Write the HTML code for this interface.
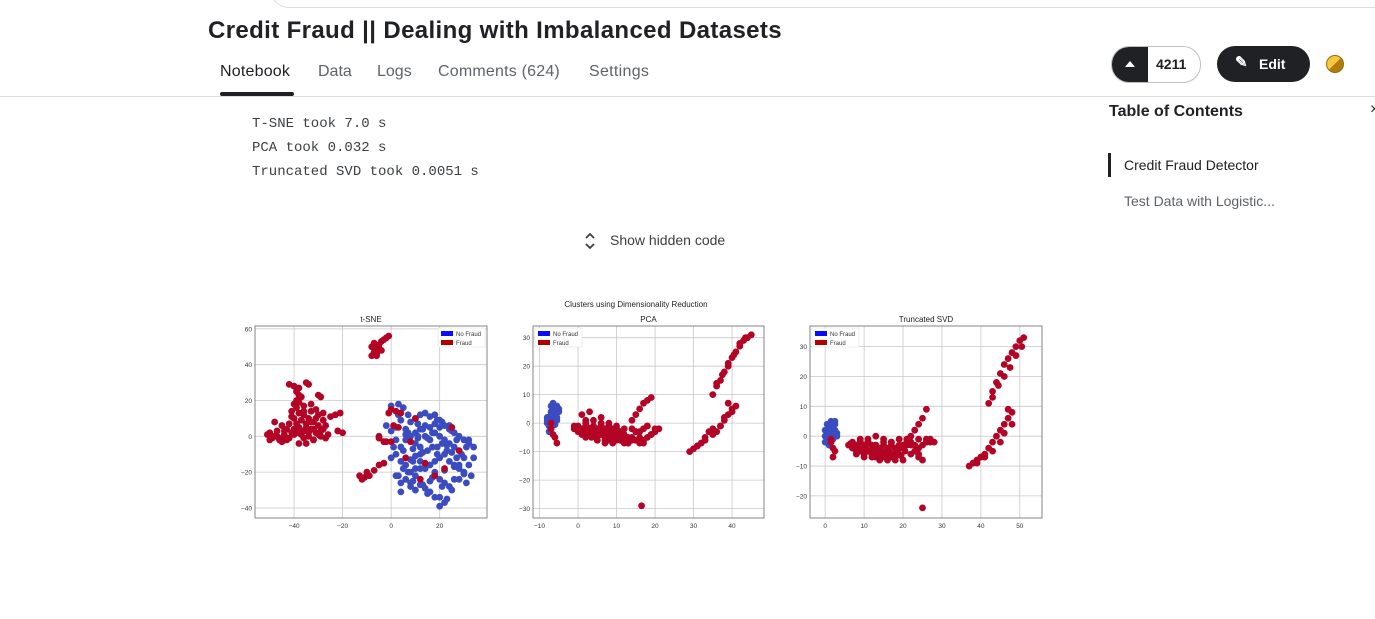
<!DOCTYPE html>
<html><head><meta charset="utf-8">
<style>
body{margin:0;width:1375px;height:619px;background:#fff;position:relative;overflow:hidden;font-family:"Liberation Sans",sans-serif;color:#202124}
.a{position:absolute;white-space:nowrap}
.mono{font-family:"Liberation Mono",monospace;font-size:14px;color:#3c4043}
</style></head><body>
<div class="a" style="left:270px;top:-30px;width:1140px;height:36px;border:1px solid #dadce0;border-radius:20px"></div>
<div class="a" style="left:208px;top:17px;font-size:24px;font-weight:bold;letter-spacing:0.37px">Credit Fraud || Dealing with Imbalanced Datasets</div>
<div class="a" style="left:220px;top:63px;font-size:16px;letter-spacing:0.2px">Notebook</div>
<div class="a" style="left:220px;top:92px;width:74px;height:4px;background:#202124;border-radius:2px"></div>
<div class="a" style="left:318px;top:63px;font-size:16px;color:#5f6368">Data</div>
<div class="a" style="left:377px;top:63px;font-size:16px;color:#5f6368">Logs</div>
<div class="a" style="left:438px;top:63px;font-size:16px;color:#5f6368;letter-spacing:0.2px">Comments (624)</div>
<div class="a" style="left:589px;top:63px;font-size:16px;color:#5f6368;letter-spacing:0.3px">Settings</div>
<div class="a" style="left:0;top:96px;width:1375px;height:1px;background:#dadce0"></div>

<div class="a" style="left:1111px;top:46px;width:88px;height:35px;border:1px solid #bdc1c6;border-radius:18px;overflow:hidden">
<div style="position:absolute;left:0;top:0;width:36px;height:35px;background:#202124"><div style="position:absolute;left:13px;top:14px;border-left:5px solid transparent;border-right:5px solid transparent;border-bottom:6px solid #fff"></div></div>
<div style="position:absolute;left:44px;top:9px;font-size:14px;font-weight:bold">4211</div></div>
<div class="a" style="left:1217px;top:46px;width:93px;height:36px;background:#202124;border-radius:18px;color:#fff;font-weight:bold;font-size:14px">
<span style="position:absolute;left:18px;top:7px;font-size:15px">✎</span><span style="position:absolute;left:42px;top:10px">Edit</span></div>
<div class="a" style="left:1326px;top:55px;width:16px;height:16px;border-radius:50%;background:linear-gradient(135deg,#f5c842 50%,#b07c10 50%);border:1px solid #9a6a00"></div>

<div class="a" style="left:1109px;top:103px;font-size:16px;font-weight:bold">Table of Contents</div>
<div class="a" style="left:1370px;top:101px;font-size:16px">×</div>
<div class="a" style="left:1108px;top:153px;width:3px;height:24px;background:#202124"></div>
<div class="a" style="left:1124px;top:157px;font-size:14px">Credit Fraud Detector</div>
<div class="a" style="left:1124px;top:193px;font-size:14px;color:#5f6368">Test Data with Logistic...</div>

<div class="a mono" style="left:252px;top:116px">T-SNE took 7.0 s</div>
<div class="a mono" style="left:252px;top:140px">PCA took 0.032 s</div>
<div class="a mono" style="left:252px;top:164px">Truncated SVD took 0.0051 s</div>
<svg class="a" style="left:584px;top:232px" width="12" height="18"><path d="M2 6 L6 2 L10 6 M2 12 L6 16 L10 12" stroke="#3c4043" stroke-width="1.8" fill="none"/></svg>
<div class="a" style="left:610px;top:232px;font-size:14px;color:#3c4043">Show hidden code</div>

<svg class="a" style="left:0;top:0" width="1375" height="619" font-family="Liberation Sans, sans-serif">
<text x="636" y="307" font-size="8" text-anchor="middle" fill="#222">Clusters using Dimensionality Reduction</text>
<g id="g1"></g><g id="g2"></g><g id="g3"></g>
</svg>
<script>
const tsneNoFraudX=[0,3,5,7,4,2,0,-2,6,8,10,12,14,16,18,20,22,24,26,28,30,32,34,8,10,12,14,16,18,20,22,24,26,10,12,6,4,2,14,16,20,18,11,0,2,4,6,8,10,12,14,16,18,20,22,24,26,28,30,32,34,30,33,2,4,6,8,10,12,14,16,18,20,22,24,26,8,10,12,20,22,20,23,18,4,28,1,5,9,13,17,21,25,29,3,7,15,19,27,31,9,13,17,21,25,11,15,19,23,6,10,14,18,22,26,30,5,9,13,17,21,25,3,7,11,15,19,23,27,31,12,16,8,24,28,32];
const tsneNoFraudY=[17,18,16,12,9,5,3,6,4,8,10,12,13,11,12,9,6,4,2,0,-2,-4,-6,0,2,4,0,-2,2,0,-2,-4,-6,-4,-6,-2,-6,-2,6,5,5,7,7,-12,-10,-14,-16,-13,-11,-14,-18,-16,-14,-12,-10,-14,-16,-18,-20,-16,-12,-12,-22,-22,-26,-24,-28,-30,-27,-29,-25,-21,-24,-26,-28,-24,-20,-22,-18,-34,-37,-39,-35,-34,-31,-24,-6,-8,-7,-9,-6,-4,-9,-10,12,-20,-32,-10,-2,-26,-14,4,2,8,3,0,-1,9,-5,1,-18,-17,-20,-19,-17,-21,-18,-25,-27,-23,-28,-30,-22,2,-1,-8,-6,-8,-12,-6,-10,-31,-26,6,-16,-2,-8];
const tsneFraudX=[-50,-48,-46,-47,-44,-42,-45,-49,-51,-43,-41,-48,-45,-40,-38,-42,-39,-37,-38,-39,-38,-40,-36,-34,-32,-30,-35,-33,-31,-29,-36,-38,-34,-32,-35,-30,-28,-27,-29,-26,-33,-31,-28,-25,-23,-21,-22,-20,-35,-34,-30,-29,-40,-42,-37,-27,-39,-36,-33,-37,-41,-44,-8,-7,-6,-8,-7,-5,-4,-6,-3,-2,-1,-4,-13,-11,-9,-10,-12,-7,-5,-3,-3,-2,0,-5,0,2,4,-1,1,3,-5,8,6,14,18,12,22,28,25,10,-46,-43,-40,-38,-36,-34,-32,-30,-28,-39,-37,-35,-33,-31,-38,-40,-41,-36,-32,-47,-50,-44,-38,-6,-5];
const tsneFraudY=[2,0,-2,3,1,-1,-3,-1,1,4,2,8,6,28,27,29,25,22,19,16,13,10,12,10,8,6,7,4,2,0,3,5,0,-2,-4,12,9,6,3,1,14,15,13,11,12,13,3,2,30,29,23,22,4,7,1,-1,20,17,18,9,11,-2,45,47,49,50,52,51,48,46,54,55,56,53,-22,-23,-22,-20,-24,-19,-16,-15,-3,-3,-3,-1,15,14,13,13,6,5,0,-3,-12,-15,-22,-24,-18,-8,5,10,-1,-2,1,2,-1,2,-2,1,4,7,9,5,8,10,23,18,14,14,4,0,-2,3,-4,45,48];
const pcaNoFraudX=[-8,-7.5,-7,-6.5,-6,-5.5,-5,-7,-6,-8,-7.5,-6.5,-5.5,-7,-6,-5,-8,-7.5,-7,-6.5,-6,-5.5,-7,-6];
const pcaNoFraudY=[0,2,4,7,5,6,4,-1,1,1,-3,3,2,3,-0.5,5,2,-1,1,0,3,1,6,2];
const pcaFraudX=[-7,-6.5,-6,-5.5,-7,-1,0,1,2,3,4,5,6,7,8,9,10,11,12,0,1,2,3,4,5,6,7,8,9,10,11,12,13,1,3,5,7,9,11,2,4,6,8,10,14,15,16,17,18,19,20,21,14,15,16,17,18,19,16,17,18,19,35,36,37,38,39,40,41,42,43,44,45,29,30,31,32,33,34,35,36,37,38,39,40,41,39,16.5,13,14,15,
-1,0.5,1.5,2.5,3.5,4.5,5.5,6.5,7.5,8.5,9.5,10.5,11.5,12.5,1,2,3,4,5,6,7,8,9,10,11,12,3.5,5.5,7.5,9.5,11.5,2,4,6,8,10,12,14,13,16,18,20,17,15,36,37.5,39,40.5,42,43.5,31,33,35,37,38,40];
const pcaFraudY=[-2,-4,-5,-7,0,-1,-1,-2,-1,-2,-1,-2,-1,-2,-3,-2,-2,-3,-4,-3,-4,-5,-3,-4,-5,-4,-5,-6,-5,-6,-6,-7,-5,3,4,-6,-7,-7,-5,1,1,2,0,-1,-2,-3,-3,-2,-1,-4,-3,-2,1,3,5,7,8,9,-7,-6,-5,-4,10,13,15,18,20,23,25,27,29,30,31,-10,-9,-8,-7,-5,-3,-2,-3,-1,1,3,5,6,7,-29,-7,-5,-3,
-2,-2.5,-3,-1.5,-3,-2.5,-3.5,-2,-3,-4,-3.5,-4.5,-5,-5.5,-2,-4,-2,-3,-6,-3,-6,-4,-4,-3,-6,-6,-5,-4,-3,-5,-3,0,-1,0,-1,-3,-2,-6,-7,-5,-1,-2,-7,-6,14,17,21,24,28,30,-8,-6,-4,-1,2,4];
const svdNoFraudX=[0,0.5,1,1.5,2,2.5,3,0,1,2,0.5,1.5,2.5,1,0,3,0.5,1,1.5,2,2.5,1,0.5,2];
const svdNoFraudY=[0,2,4,5,3,5,1,-2,-3,-1,1,1,4,2,2,0,-1,0,-2,0,2,3,4,4];
const svdFraudX=[1.5,2,2.5,2,1.5,6,7,8,9,10,11,12,13,14,15,16,17,18,19,20,21,22,7,8,9,10,11,12,13,14,15,16,17,18,19,20,23,24,25,26,27,28,9,11,13,15,17,19,21,10,12,14,16,18,22,23,24,25,26,25,42,43,44,45,46,47,48,49,50,51,37,38,39,40,41,42,43,44,45,46,47,48,47,25,24,
6.5,7.5,8.5,9.5,10.5,11.5,12.5,13.5,14.5,15.5,16.5,17.5,18.5,19.5,20.5,8,10,12,14,16,18,20,22,9,11,13,15,17,19,21,23,24,26,27,22,24,26,43,44.5,46,47.5,49,50.5,39,41,43,45,46,48];
const svdFraudY=[-2,-4,-5,-7,-1,-3,-2,-3,-2,-3,-2,-3,-3,-4,-3,-4,-3,-4,-4,-3,-3,-2,-4,-5,-5,-6,-5,-6,-7,-6,-7,-6,-7,-7,-6,-8,-5,-4,-3,-2,-2,-2,-1,-1,0,-1,-2,-1,-1,-7,-7,-8,-8,-8,0,2,4,6,9,-8,11,15,18,21,24,26,28,30,32,33,-10,-9,-8,-7,-6,-4,-2,0,2,4,6,8,9,-24,-7,
-2.5,-3.5,-4,-4.5,-4,-5,-4.5,-5.5,-5,-6,-5,-6,-5.5,-6.5,-5,-6,-6,-5,-5,-4.5,-6,-4,-6,-2,-2,-3,-2,-2,-3,-2,-3,-6,-2,-1,-3,-1,-1,13,17,20,23,27,30,-9,-7,-5,-2,1,4];
const tsneXTicks=[-40,-20,0,20], tsneYTicks=[-40,-20,0,20,40,60];
const pcaXTicks=[-10,0,10,20,30,40], pcaYTicks=[-30,-20,-10,0,10,20,30];
const svdXTicks=[0,10,20,30,40,50], svdYTicks=[-20,-10,0,10,20,30];
const NS='http://www.w3.org/2000/svg';
function mk(tag,attrs,parent){const e=document.createElementNS(NS,tag);for(const k in attrs)e.setAttribute(k,attrs[k]);parent.appendChild(e);return e;}
function plot(g,name,title,box,xd,yd,xt,yt,nx,ny,fx,fy,legendRight){
 const sx=v=>box.x0+(v-xd[0])/(xd[1]-xd[0])*(box.x1-box.x0);
 const sy=v=>box.y1-(v-yd[0])/(yd[1]-yd[0])*(box.y1-box.y0);
 
 
 const t=mk('text',{x:(box.x0+box.x1)/2,y:box.y0-4,'font-size':8,'text-anchor':'middle',fill:'#222'},g);t.textContent=title;
 
 
 xt.forEach(v=>{const l=mk('line',{x1:sx(v),x2:sx(v),y1:box.y0,y2:box.y1,stroke:'#c8c8c8','stroke-width':0.8},g);
  
  
  const tx=mk('text',{x:sx(v),y:box.y1+10,'font-size':6.5,'text-anchor':'middle',fill:'#333'},g);tx.textContent=(v<0?'\u2212'+(-v):v);
  
  });
 yt.forEach(v=>{const l=mk('line',{x1:box.x0,x2:box.x1,y1:sy(v),y2:sy(v),stroke:'#c8c8c8','stroke-width':0.8},g);
  
  
  const tx=mk('text',{x:box.x0-3,y:sy(v)+2.5,'font-size':6.5,'text-anchor':'end',fill:'#333'},g);tx.textContent=(v<0?'\u2212'+(-v):v);
  
  });
 nx.forEach((v,i)=>{const c=mk('circle',{cx:sx(v),cy:sy(ny[i]),r:3.4,fill:'#3b4cc0'},g);
  
  });
 fx.forEach((v,i)=>{const c=mk('circle',{cx:sx(v),cy:sy(fy[i]),r:3.4,fill:'#b40426'},g);
  
  });
 const b=mk('rect',{x:box.x0,y:box.y0,width:box.x1-box.x0,height:box.y1-box.y0,fill:'none',stroke:'#666','stroke-width':0.8},g);
 
 
 const lx=legendRight?box.x1-49:box.x0+2;
 const lg=mk('g',{},g);
 
 
 mk('rect',{x:lx,y:box.y0+2,width:47,height:19,fill:'#fff',stroke:'#ddd','stroke-width':0.5},lg);
 mk('rect',{x:lx+3,y:box.y0+5,width:12,height:5,fill:'#0a0aff'},lg);
 mk('rect',{x:lx+3,y:box.y0+14,width:12,height:5,fill:'#b00000'},lg);
 const a=mk('text',{x:lx+18,y:box.y0+10,'font-size':6,fill:'#333'},lg);a.textContent='No Fraud';
 const c2=mk('text',{x:lx+18,y:box.y0+19,'font-size':6,fill:'#333'},lg);c2.textContent='Fraud';
}
plot(document.getElementById('g1'),'tsne-subplot','t-SNE',{x0:255,x1:487,y0:326,y1:518},[-56.1,39.5],[-45.6,61.6],tsneXTicks,tsneYTicks,tsneNoFraudX,tsneNoFraudY,tsneFraudX,tsneFraudY,true);
plot(document.getElementById('g2'),'pca-subplot','PCA',{x0:533,x1:764,y0:326,y1:518},[-11.7,48.3],[-33.3,34.1],pcaXTicks,pcaYTicks,pcaNoFraudX,pcaNoFraudY,pcaFraudX,pcaFraudY,false);
plot(document.getElementById('g3'),'svd-subplot','Truncated SVD',{x0:810,x1:1042,y0:326,y1:518},[-3.9,55.7],[-27.4,36.9],svdXTicks,svdYTicks,svdNoFraudX,svdNoFraudY,svdFraudX,svdFraudY,false);
</script>
</body></html>
